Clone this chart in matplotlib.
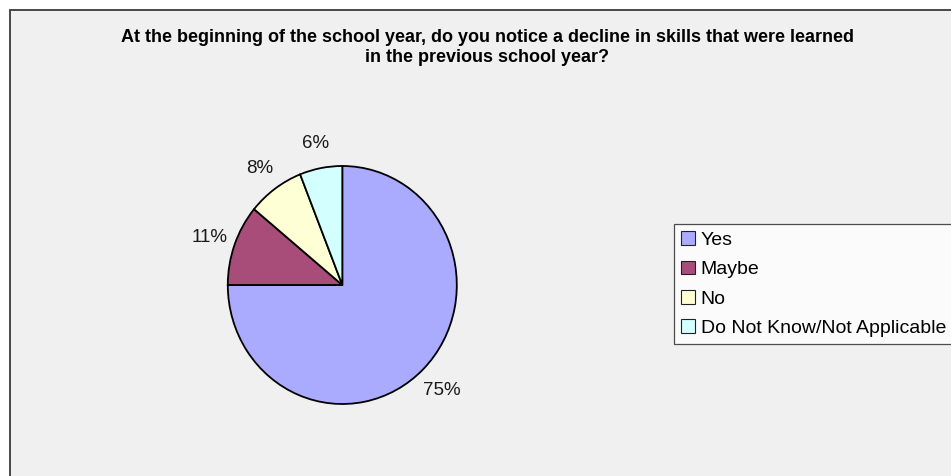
import matplotlib.pyplot as plt
from matplotlib.patches import Rectangle

# survey answers, percent of respondents
answers = ['Yes', 'Maybe', 'No', 'Do Not Know/Not Applicable']
percents = [75, 11, 8, 6]
colors = ['#aaabff', '#a84c7a', '#ffffd6', '#d4ffff']

title = ('At the beginning of the school year, do you notice a decline in skills that were learned\n'
         'in the previous school year?')

plt.rcParams['font.family'] = ['Liberation Sans', 'DejaVu Sans']

W, H = 951, 476
fig = plt.figure(figsize=(W / 100, H / 100), dpi=100)
fig.patch.set_facecolor('white')

# grey chart area with a dark border, running off the right and bottom edges
fig.patches.append(Rectangle((10 / W, -0.05), 1.1, 1 - 10 / H + 0.05,
                             transform=fig.transFigure, facecolor='#f0f0f0',
                             edgecolor='#3a3a3a', linewidth=1.3, zorder=-5))

fig.text(487 / W, 1 - 29 / H, title, ha='center', va='top', fontsize=13,
         fontweight='bold', linespacing=1.2)

# pie area, slightly taller than wide
cx, cy, rx, ry = 342.3, 285, 114.5, 119
ax = fig.add_axes([(cx - rx) / W, 1 - (cy + ry) / H, 2 * rx / W, 2 * ry / H])
ax.patch.set_visible(False)
wedges, texts = ax.pie(percents, colors=colors, startangle=90, counterclock=False,
                       labels=[f'{p}%' for p in percents], labeldistance=1.23,
                       wedgeprops=dict(edgecolor='black', linewidth=1.3),
                       textprops=dict(fontsize=13.5, color='#1a1a1a'))
for t in texts:
    t.set_ha('center')
    t.set_va('center_baseline')
ax.set_aspect('auto')
ax.set_xlim(-1, 1)
ax.set_ylim(-1, 1)
ax.axis('off')

leg = fig.legend(wedges, answers, loc='upper left', bbox_to_anchor=(674 / W, 1 - 224 / H),
                 bbox_transform=fig.transFigure, borderaxespad=0, fontsize=14,
                 fancybox=False, frameon=True, handlelength=0.72, handleheight=0.72,
                 handletextpad=0.27, labelspacing=0.59, borderpad=0.38)
leg.get_frame().set_edgecolor('#222222')
leg.get_frame().set_facecolor('white')
leg.get_frame().set_linewidth(0.9)
for h in leg.legend_handles:
    h.set_linewidth(0.8)
    h.set_edgecolor('#222222')

fig.savefig('out.png', dpi=100)
